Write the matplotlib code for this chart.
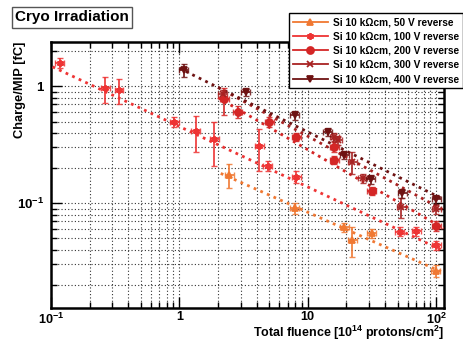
import matplotlib
matplotlib.use("Agg")
import matplotlib.pyplot as plt
from matplotlib.lines import Line2D
from matplotlib.ticker import LogLocator, NullFormatter, FixedLocator, FixedFormatter

plt.rcParams["font.family"] = ["Liberation Sans", "DejaVu Sans"]
plt.rcParams["font.weight"] = "bold"
plt.rcParams["mathtext.fontset"] = "custom"
plt.rcParams["mathtext.rm"] = "Liberation Sans:bold"
plt.rcParams["mathtext.bf"] = "Liberation Sans:bold"

# ---- data ----
labels = ["Si 10 k\u03a9cm, 50 V reverse", "Si 10 k\u03a9cm, 100 V reverse",
          "Si 10 k\u03a9cm, 200 V reverse", "Si 10 k\u03a9cm, 300 V reverse",
          "Si 10 k\u03a9cm, 400 V reverse"]

fl_50 = [2.45, 7.9, 19.3, 22.2, 31.7, 99]
q_50 = [0.175, 0.0906, 0.0622, 0.0487, 0.0554, 0.0265]
e_50 = [0.04, 0.009, 0.005, 0.014, 0.005, 0.003]

fl_100 = [0.117, 0.265, 0.34, 0.914, 1.35, 1.87, 4.2, 4.88, 8.13, 51.9, 70, 100]
q_100 = [1.59, 0.96, 0.93, 0.50, 0.417, 0.354, 0.309, 0.208, 0.169, 0.0572, 0.0579, 0.044]
e_100 = [0.15, 0.24, 0.22, 0.05, 0.14, 0.146, 0.12, 0.02, 0.02, 0.005, 0.005, 0.004]

fl_200 = [2.24, 2.85, 5.03, 8.13, 16.1, 16.1, 31.7, 100]
q_200 = [0.774, 0.606, 0.498, 0.371, 0.305, 0.235, 0.128, 0.064]
e_200 = [0.2, 0.07, 0.05, 0.03, 0.03, 0.02, 0.01, 0.006]

fl_300 = [2.17, 16.1, 17.1, 22.2, 26.8, 53.4, 100]
q_300 = [0.854, 0.371, 0.348, 0.227, 0.164, 0.093, 0.089]
e_300 = [0.08, 0.03, 0.03, 0.05, 0.015, 0.018, 0.008]

fl_400 = [1.08, 3.31, 7.97, 14.3, 19.3, 31.0, 54.4, 100]
q_400 = [1.38, 0.90, 0.568, 0.409, 0.259, 0.160, 0.122, 0.108]
e_400 = [0.18, 0.07, 0.05, 0.03, 0.02, 0.015, 0.01, 0.01]

# power-law fit lines, endpoints only
fit_x = [[2.1, 114], [0.103, 112], [2.0, 114], [2.0, 114], [1.0, 114]]
fit_y = [[0.18, 0.0254], [1.47, 0.0395], [0.80, 0.061], [0.98, 0.0875], [1.43, 0.108]]

colors = ["#F07832", "#EE3434", "#D42626", "#A82222", "#6E1212"]
markers = ["^", (6, 2, 0), "o", "x", "v"]

series = [(fl_50, q_50, e_50), (fl_100, q_100, e_100), (fl_200, q_200, e_200),
          (fl_300, q_300, e_300), (fl_400, q_400, e_400)]

fig = plt.figure(figsize=(4.63, 3.42), dpi=100)
ax = fig.add_axes([0.110, 0.0994, 0.849, 0.778])
ax.set_xscale("log")
ax.set_yscale("log")
ax.set_xlim(0.1, 115)
ax.set_ylim(0.0127, 2.4)

ax.grid(True, which="both", color="#333333", linestyle=(0, (1, 2)), linewidth=0.8)

for i, (fl, q, e) in enumerate(series):
    c = colors[i]
    ax.plot(fit_x[i], fit_y[i], color=c, linestyle=(0, (1.0, 1.6)), linewidth=2.0, zorder=3)
    xe = [[v * 0.08 for v in fl], [v * 0.08 for v in fl]]
    ax.errorbar(fl, q, yerr=e, xerr=xe, fmt="none", ecolor=c, elinewidth=1.4,
                capsize=2, capthick=1.0, alpha=0.85, zorder=4)
    ax.plot(fl, q, linestyle="none", marker=markers[i], color=c, markersize=5,
            markeredgewidth=1.3, zorder=5)

# ticks ROOT-like: inside on all sides
ax.tick_params(which="both", direction="in", top=True, right=True, width=1.0)
ax.tick_params(which="major", length=8, labelsize=9.5)
ax.tick_params(axis="x", which="major", pad=2.5, labelsize=9.2)
ax.tick_params(axis="y", which="major", pad=5)
ax.tick_params(which="minor", length=4.5)
ax.xaxis.set_major_locator(FixedLocator([0.1, 1, 10, 100]))
ax.xaxis.set_major_formatter(FixedFormatter(["$10^{-1}$", "1", "10", "$10^{2}$"]))
ax.xaxis.set_minor_locator(LogLocator(base=10, subs=range(2, 10), numticks=20))
ax.xaxis.set_minor_formatter(NullFormatter())
ax.yaxis.set_major_locator(FixedLocator([0.1, 1]))
ax.yaxis.set_major_formatter(FixedFormatter(["$10^{-1}$", "1"]))
ax.yaxis.set_minor_locator(LogLocator(base=10, subs=range(2, 10), numticks=20))
ax.yaxis.set_minor_formatter(NullFormatter())
for s in ax.spines.values():
    s.set_linewidth(1.8)

fig.text(20 / 463, 1 - 42 / 342, "Charge/MIP [fC]", fontsize=9.3, fontweight="bold",
         rotation=90, ha="center", va="top")
fig.text(444 / 463, 1 - 337.5 / 342, "Total fluence [10$^{14}$ protons/cm$^{2}$]", fontsize=9.0,
         fontweight="bold", ha="right", va="baseline")

fig.text(15 / 463, 1 - 17.5 / 342, "Cryo Irradiation", fontsize=11, fontweight="bold", va="center",
         bbox=dict(boxstyle="square,pad=0.22", facecolor="white", edgecolor="#555555", linewidth=1.0))

handles = [Line2D([0], [0], color=colors[i], marker=markers[i], markersize=5,
                  linewidth=1.3, markeredgewidth=1.3) for i in range(5)]
leg = fig.legend(handles, labels, loc="upper left", bbox_to_anchor=(289 / 463, 1 - 13 / 342),
                 fontsize=7.3, frameon=True, fancybox=False, framealpha=1,
                 edgecolor="black", handlelength=3.4, handletextpad=0.5,
                 labelspacing=0.42, borderpad=0.4, borderaxespad=0)
leg.get_frame().set_linewidth(1.0)

fig.savefig("out.png", dpi=100)
